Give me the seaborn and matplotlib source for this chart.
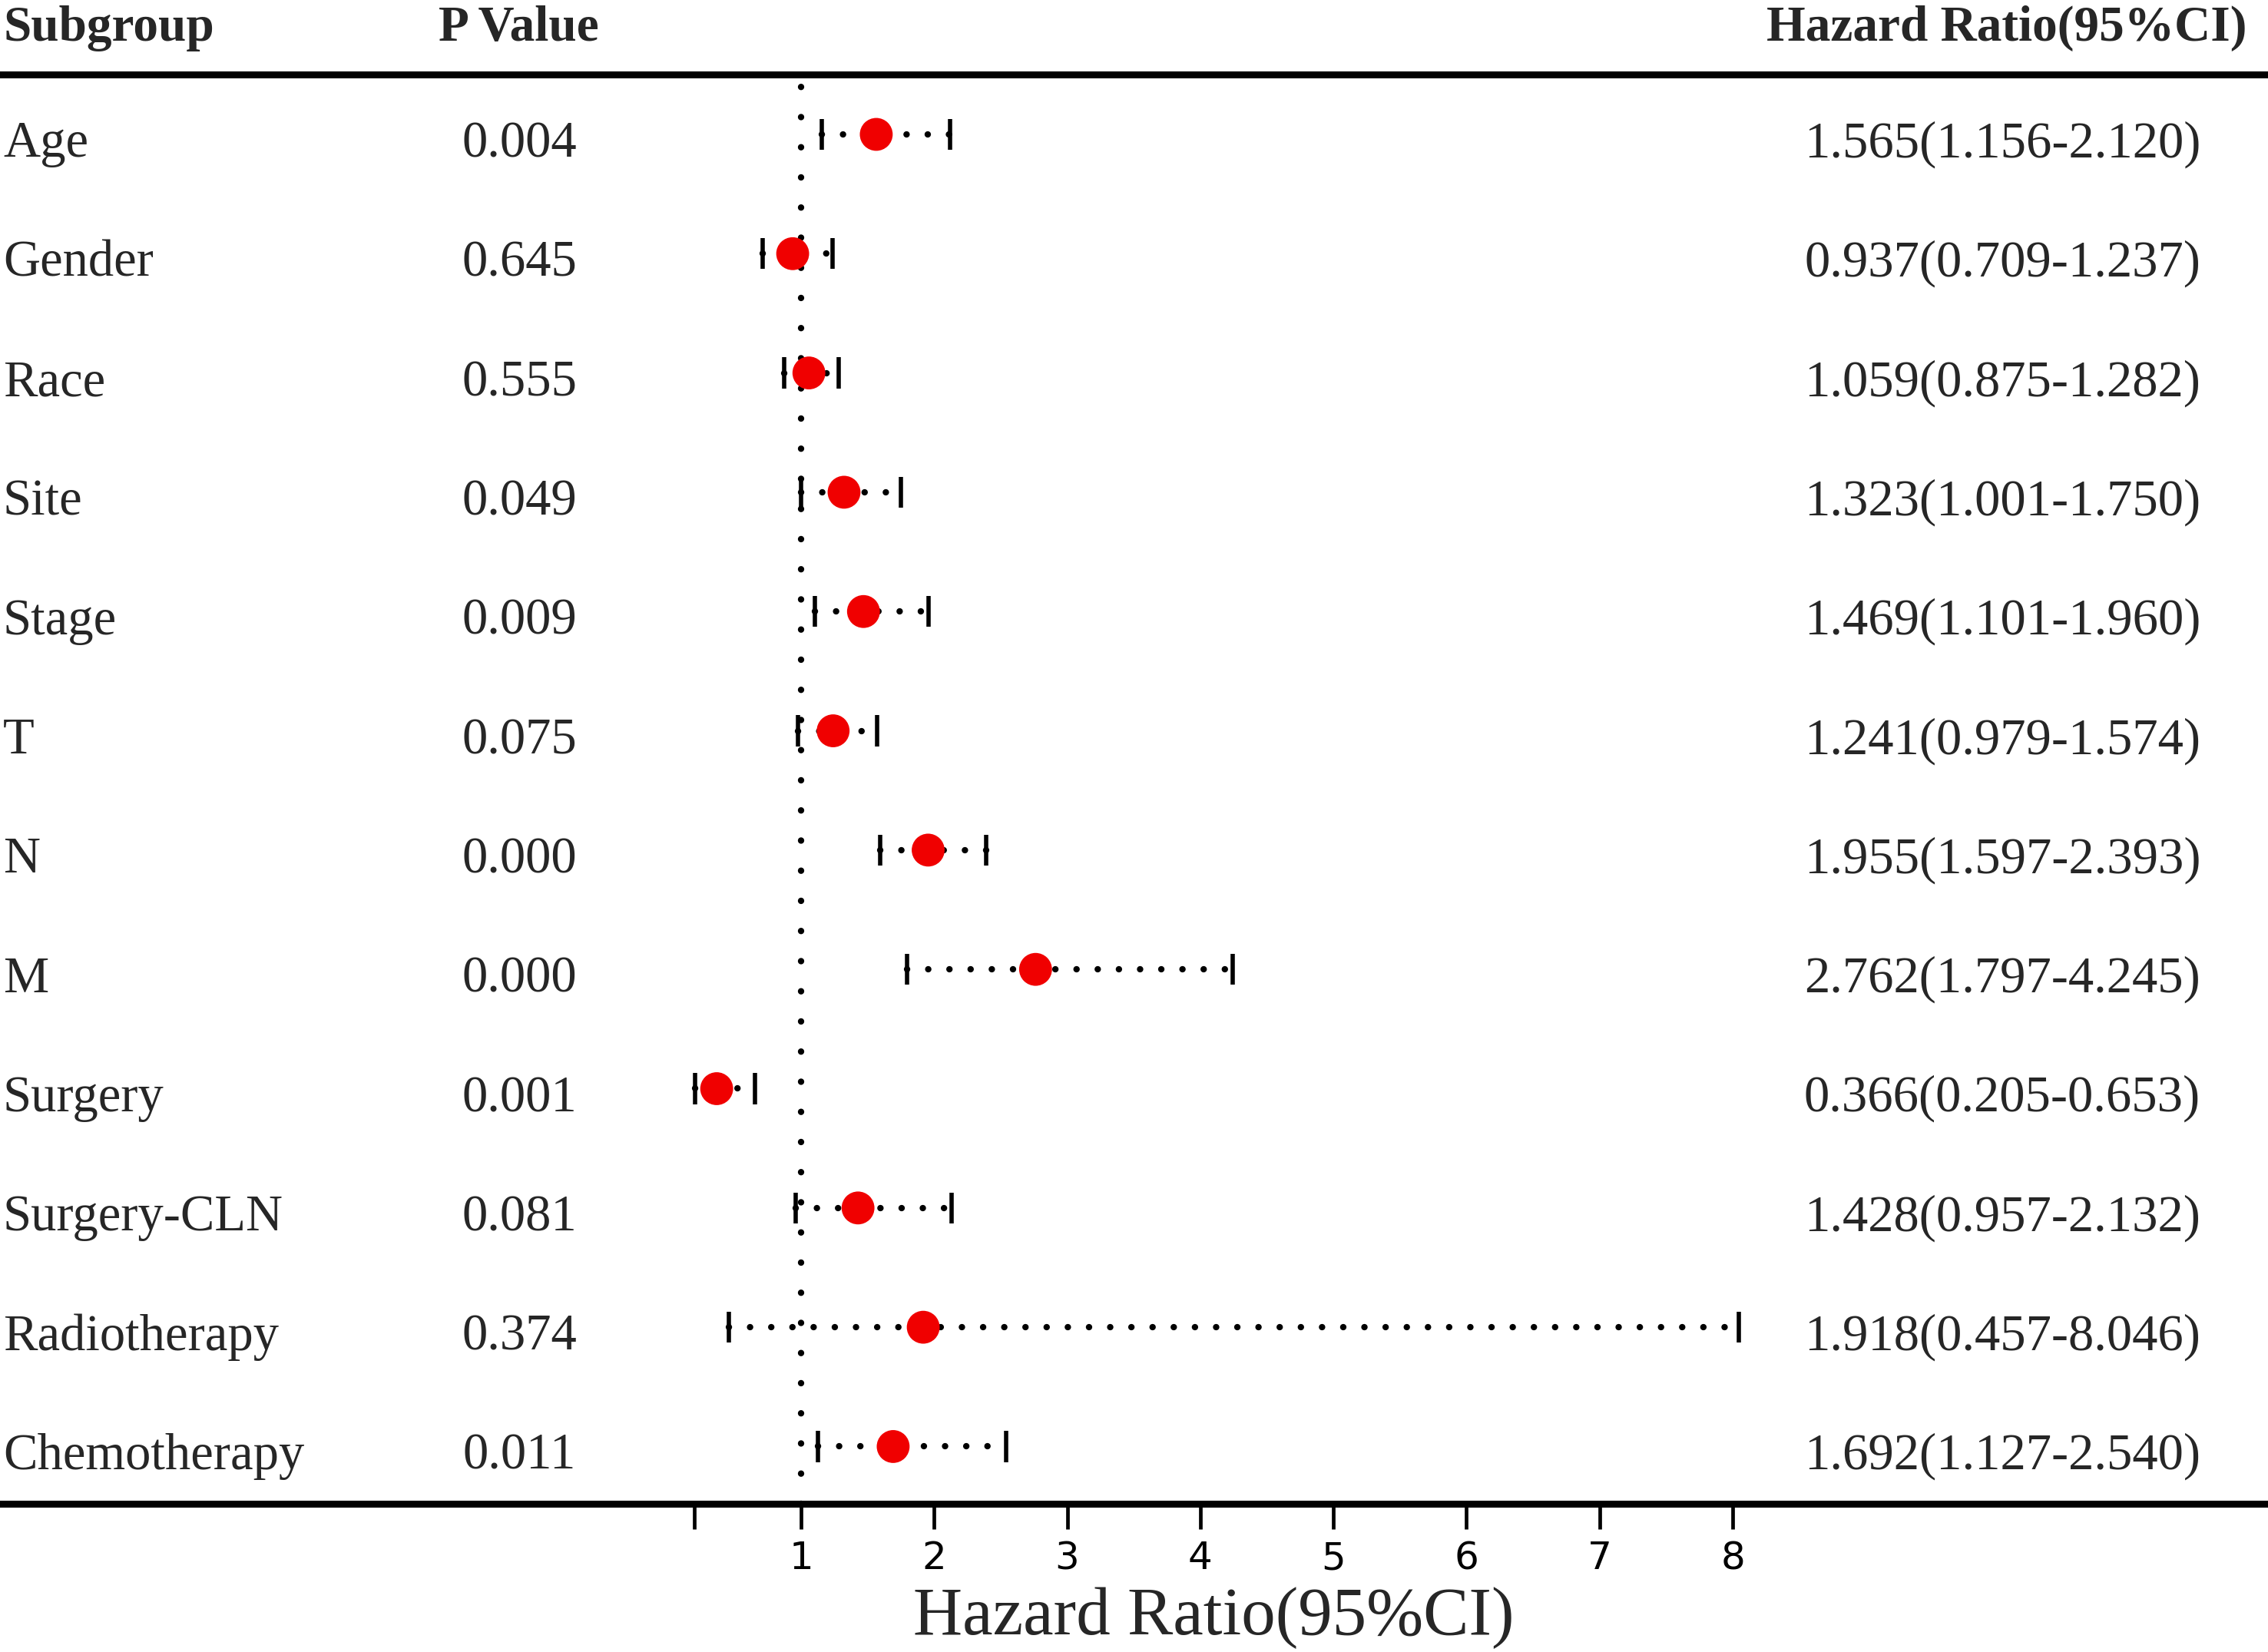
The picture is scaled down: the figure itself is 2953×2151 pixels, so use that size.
import matplotlib
matplotlib.use("Agg")
import matplotlib.pyplot as plt
import seaborn as sns
import pandas as pd
import numpy as np

# ---- data ----
subgroups = ["Age", "Gender", "Race", "Site", "Stage", "T", "N", "M",
             "Surgery", "Surgery-CLN", "Radiotherapy", "Chemotherapy"]
p_values = ["0.004", "0.645", "0.555", "0.049", "0.009", "0.075", "0.000",
            "0.000", "0.001", "0.081", "0.374", "0.011"]
hr = [1.565, 0.937, 1.059, 1.323, 1.469, 1.241, 1.955, 2.762, 0.366, 1.428, 1.918, 1.692]
ci_low = [1.156, 0.709, 0.875, 1.001, 1.101, 0.979, 1.597, 1.797, 0.205, 0.957, 0.457, 1.127]
ci_high = [2.120, 1.237, 1.282, 1.750, 1.960, 1.574, 2.393, 4.245, 0.653, 2.132, 8.046, 2.540]
x_ticks = [0.2, 1, 2, 3, 4, 5, 6, 7, 8]
x_ticklabels = ["", "1", "2", "3", "4", "5", "6", "7", "8"]

df = pd.DataFrame({"Subgroup": subgroups, "P": p_values, "HR": hr,
                   "Low": ci_low, "High": ci_high})
df["row"] = np.arange(len(df))

sns.set_style("white")
plt.rcParams["font.family"] = ["Liberation Serif", "DejaVu Serif"]

W, H = 2953, 2151
fig = plt.figure(figsize=(W / 100, H / 100), dpi=100)
ax_bottom = (H - 1958) / H
ax_top = (H - 97) / H
ax = fig.add_axes([0, ax_bottom, 1, ax_top - ax_bottom])

# x scale: 1 -> 1043 px, 8 -> 2256 px
ppu = (2256 - 1043) / 7.0
ax.set_xlim(1 - 1043 / ppu, 8 + (W - 2256) / ppu)
ax.set_ylim(11.48, -0.502)

# reference line
ax.axvline(1, color="black", lw=6, linestyle=(0, (0.01, 4.7)),
           dash_capstyle="round", zorder=1)

# CI dotted lines
ax.hlines(df["row"], df["Low"], df["High"], colors="black", lw=6,
          linestyles=[(0, (0.01, 3.3))], capstyle="round", zorder=2)
# caps
ax.vlines(df["Low"], df["row"] - 0.13, df["row"] + 0.13, colors="black", lw=4, zorder=2)
ax.vlines(df["High"], df["row"] - 0.13, df["row"] + 0.13, colors="black", lw=4, zorder=2)

# points
sns.scatterplot(data=df, x="HR", y="row", ax=ax, color="#f00000", s=950,
                edgecolor="none", linewidth=0, zorder=3, legend=False)

# spines / ticks
for s in ["left", "right"]:
    ax.spines[s].set_visible(False)
ax.spines["top"].set_linewidth(6.5)
ax.spines["bottom"].set_linewidth(6.5)
ax.spines["top"].set_color("black")
ax.spines["bottom"].set_color("black")
ax.set_yticks([])
ax.set_ylabel("")
ax.set_xlabel("")
ax.set_xticks(x_ticks)
ax.set_xticklabels(x_ticklabels, fontfamily="DejaVu Sans", fontsize=36)
ax.tick_params(axis="x", direction="out", length=24, width=3.4, pad=10,
               color="black", labelcolor="black", bottom=True)

# text columns
tr = ax.get_yaxis_transform()
fs = 48
for i, row in df.iterrows():
    y = row["row"] + 0.19
    ax.text(4 / W, y, row["Subgroup"], transform=tr, ha="left", va="baseline", fontsize=fs)
    ax.text(676 / W, y, row["P"], transform=tr, ha="center", va="baseline", fontsize=fs)
    ax.text(2607 / W, y,
            f"{row['HR']:.3f}({row['Low']:.3f}-{row['High']:.3f})",
            transform=tr, ha="center", va="baseline", fontsize=fs)

hy = -0.786
ax.text(4 / W, hy, "Subgroup", transform=tr, ha="left", va="baseline",
        fontsize=47, fontweight="bold")
ax.text(571 / W, hy, "P Value", transform=tr, ha="left", va="baseline",
        fontsize=47, fontweight="bold")
ax.text(2925 / W, hy, "Hazard Ratio(95%CI)", transform=tr, ha="right", va="baseline",
        fontsize=47, fontweight="bold")

# x-axis title centred over the 0.2-8 range
fig_tr = matplotlib.transforms.blended_transform_factory(ax.transData, fig.transFigure)
ax.text((x_ticks[0] + x_ticks[-1]) / 2, (H - 2128) / H, "Hazard Ratio(95%CI)",
        transform=fig_tr, ha="center", va="baseline", fontsize=64)

fig.savefig("out.png", dpi=100)
